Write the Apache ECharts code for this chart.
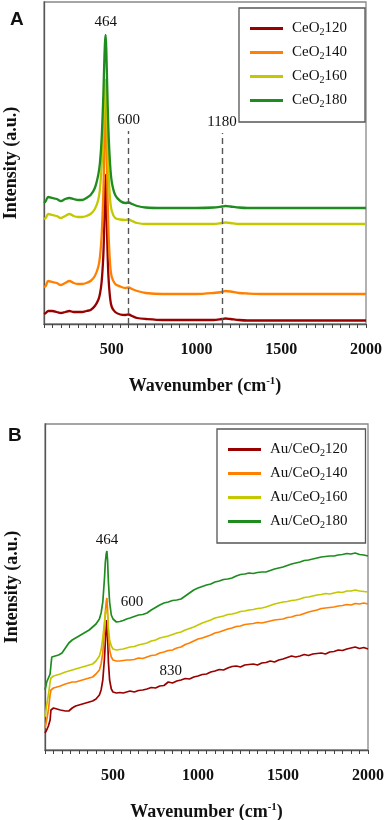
<!DOCTYPE html>
<html><head><meta charset="utf-8">
<script src="https://cdn.jsdelivr.net/npm/echarts@6/dist/echarts.min.js"></script>
<style>html,body{margin:0;padding:0;background:#fff}#c{width:387px;height:820px}</style>
</head><body><div id="c"></div>
<script>
// ---------- Panel A data ----------
const namesA = ['CeO2120', 'CeO2140', 'CeO2160', 'CeO2180'];
const xA = [100,110,125,150,175,200,225,250,275,300,325,350,375,400,420,430,440,450,455,460,464,468,473,480,490,500,520,550,580,600,620,650,700,800,900,1000,1100,1150,1170,1200,1250,1300,1400,1500,1600,1700,1800,1900,2000];
const redA = [10,11,13,13,12, 11,12,13,12,12, 12,13,14,18,24, 30,42,68,95,130, 149,125,85,48,26, 17,12,9.5,9,9.5, 8,6,5,4,4, 4,4,5,5.5,5, 4,3.5,3.5,3.5,3.5, 3.5,3.5,3.5,3.5];
const orangeA = [37,38,43,42,41, 39,41,43,41,40, 40,41,43,48,57, 67,88,130,165,205, 224,198,145,95,60, 47,40,37.5,36,36.5, 35,33,31,30,30, 30,31,32,33,32.5, 31,30.5,30,30,30, 30,30,30,30];
const yellowA = [105,106,110,109,108, 106,108,110,108,107, 107,108,110,115,124, 135,158,198,222,238, 244,230,195,155,125, 113,106,104.5,104,104.5, 103,101,100,100,100, 100,100,101,101.5,101, 100,100,100,100,100, 100,100,100,100];
const greenA = [121,123,127,126,125, 123,125,126,125,124, 124,126,129,136,149, 161,185,228,258,282, 289,272,238,195,160, 142,129,123,121,121.5, 120,118,116.5,116,116, 116,116.5,117.5,118,117.5, 116.5,116,116,116,116, 116,116,116,116];

// ---------- Panel B data ----------
const namesB = ['Au/CeO2120', 'Au/CeO2140', 'Au/CeO2160', 'Au/CeO2180'];
const xB = [100,110,120,130,135,140,150,160,170,180,190,200,220,240,260,280,300,320,340,360,380,400,420,430,440,450,455,460,464,468,473,480,490,500,520,540,560,580,
  600,625,650,675,700,725,750,775,800,825,850,875,900,925,950,975,1000,1025,1050,1075,1100,1125,1150,1175,1200,1225,1250,1275,1300,1325,1350,1375,1400,1425,1450,1475,1500,1525,1550,1575,1600,1625,1650,1675,1700,1725,1750,1775,1800,1825,1850,1875,1900,1925,1950,1975,2000];
const redB = [17,20,24,30,40, 42,42,41,41,41, 40,40,39,39,42, 44,45,46,47,48, 49,51,55,60,70, 92,108,122,130,115, 88,70,61,58,57, 57.5,57,58,
  59,58,59.5,60,61, 62.5,62,64,64.5,68, 67,69,70,71.5,71, 73,74,75.5,76,78, 79,80.5,80,82,83.5, 84,83,85,85.5,86, 85,87,87.5,89,88, 90,91,92.5,94,93, 94,95.5,94.5,96,96.5, 97,96,98,98.5,100, 99.5,101,102,103,101.5, 102.5,101];
const orangeB = [22,30,40,55,60, 62,62,63,63,64, 64,65,66,67,68, 68,69,70,71,72, 73,76,80,86,97, 122,138,148,152,140, 115,100,93,90,89, 89,89.5,90,
  90,90.5,92,91.5,93, 94.5,95,97,98,99.5, 100,102,103,105.5,107, 109,111,112,113.5,115, 117,118,119.5,121,122, 123.5,124,125.5,126,126.5, 127.5,127,128,129,130, 130.5,131,132.5,133,134.5, 135,136.5,138,139,140, 141.5,142,142.5,143,144, 144.5,145.5,145,146.5,146, 147,146];
const yellowB = [33,45,55,68,72, 73,74,74,75,75, 76,76,78,79,80, 81,82,83,84,85, 86,89,94,100,112, 128,137,140,142,136, 122,110,104,101,100, 100.5,101,102,
  103,103.5,105,106,107, 109,110,112,113,114, 115.5,117,118,120,121.5, 123,125,127,128.5,130, 132,133,134,135.5,136, 137,138.5,139,140,140.5, 141.5,142,143,144.5,146, 147,148,148.5,149.5,150, 151,152.5,153,154,155, 155.5,156.5,156,157,158, 157.5,159,159,160,159, 158.5,158];
const greenB = [60,68,72,76,85, 93,94,94,95,95, 96,97,102,107,110, 112,114,116,118,120, 123,126,131,137,148, 172,188,196,199,190, 168,148,135,131,128, 128.5,129.5,131,
  132,133.5,135,135.5,137, 140,142.5,145,147,148, 149.5,150,151,154,157, 160,162,163.5,165,166, 168,169,170.5,171,172, 174,175.5,176,177,176.5, 177.5,178,178,179.5,181, 182,183,184.5,186,187, 188,189.5,190,191,192, 193,193.5,194,194,195, 195.5,196.5,196,197,195.5, 195,194];

const colors = ['#990000', '#FF8000', '#C4C800', '#1E8C1E'];

const SERIF = '"Liberation Serif","Times New Roman",serif';
const SANS = '"Liberation Sans",Arial,sans-serif';
const zip = (xs, ys) => xs.map((x, i) => [x, ys[i]]);
const subName = n => n.replace('CeO2', 'CeO{s|2}');

function xAxisCfg(gridIndex) {
  return {
    type: 'value', gridIndex: gridIndex, min: 100, max: 2000, interval: 50,
    name: 'Wavenumber (cm{sup|-1})', nameLocation: 'middle', nameGap: 52,
    nameTextStyle: { fontFamily: SERIF, fontWeight: 'bold', fontSize: 18, color: '#111',
      rich: { sup: { fontFamily: SERIF, fontWeight: 'bold', fontSize: 11, padding: [0, 0, 9, 0] } } },
    axisLine: { show: true, onZero: false, lineStyle: { color: '#555', width: 1.3 } },
    axisTick: { show: true, length: 4, lineStyle: { color: '#444', width: 1 } },
    axisLabel: { formatter: v => (v % 500 === 0 ? String(v) : ''), fontFamily: SERIF, fontWeight: 'bold', fontSize: 16, color: '#111', margin: 18 },
    splitLine: { show: false }
  };
}
function yAxisCfg(gridIndex, max) {
  return {
    type: 'value', gridIndex: gridIndex, min: 0, max: max,
    name: 'Intensity (a.u.)', nameLocation: 'middle', nameGap: 24, nameRotate: 90,
    nameTextStyle: { fontFamily: SERIF, fontWeight: 'bold', fontSize: 18, color: '#111' },
    axisLine: { show: true, lineStyle: { color: '#555', width: 1.3 } },
    axisTick: { show: false }, axisLabel: { show: false }, splitLine: { show: false }
  };
}
function legendCfg(names, left, top) {
  return {
    data: names, orient: 'vertical', left: left, top: top, selectedMode: false,
    icon: 'rect', itemWidth: 33, itemHeight: 3, itemGap: 8,
    borderColor: '#555', borderWidth: 1.3, padding: [13, 18, 13, 11], borderRadius: 0,
    formatter: subName,
    textStyle: { fontFamily: SERIF, fontSize: 15, color: '#111', padding: [0, 0, 0, 4],
      rich: { s: { fontFamily: SERIF, fontSize: 10, padding: [7, 0, 0, 0] } } }
  };
}
const peakLabel = { fontFamily: SERIF, fontSize: 15, color: '#111' };

function lineSeries(name, xs, ys, color, idx, width, smooth) {
  return {
    type: 'line', name: name, data: zip(xs, ys), xAxisIndex: idx, yAxisIndex: idx,
    showSymbol: false, smooth: smooth, lineStyle: { color: color, width: width }, itemStyle: { color: color },
    animation: false, silent: true
  };
}

const sA = [redA, orangeA, yellowA, greenA].map((ys, i) => lineSeries(namesA[i], xA, ys, colors[i], 0, 2.3, 0.3));
const sB = [redB, orangeB, yellowB, greenB].map((ys, i) => lineSeries(namesB[i], xB, ys, colors[i], 1, 1.7, false));

sA[0].markLine = {
  symbol: ['none', 'none'], silent: true, animation: false,
  lineStyle: { type: [6, 4], color: '#555', width: 1.4 },
  label: { show: true, position: 'end', formatter: '{b}', distance: 3, ...peakLabel },
  data: [
    [{ name: '600', coord: [600, 0] }, { coord: [600, 193] }],
    [{ name: '1180', coord: [1150, 0] }, { coord: [1150, 191] }]
  ]
};
const mpBase = { symbol: 'circle', symbolSize: 1, itemStyle: { color: 'rgba(0,0,0,0)' }, animation: false, silent: true };
sA[3].markPoint = Object.assign({}, mpBase, {
  label: { show: true, position: 'top', distance: 5, formatter: '{b}', ...peakLabel },
  data: [{ name: '464', coord: [464, 289] }]
});
sB[3].markPoint = Object.assign({}, mpBase, {
  label: { show: true, position: 'top', distance: 3, formatter: '{b}', ...peakLabel },
  data: [{ name: '464', coord: [464, 199] }]
});
sB[0].markPoint = Object.assign({}, mpBase, {
  label: { show: true, position: 'inside', formatter: '{b}', ...peakLabel },
  data: [{ name: '600', coord: [612, 148] }, { name: '830', coord: [840, 79] }]
});

const chart = echarts.init(document.getElementById('c'), null, { renderer: 'canvas' });
chart.setOption({
  animation: false,
  backgroundColor: '#fff',
  title: [
    { text: 'A', left: 5, top: 5, textStyle: { fontFamily: SANS, fontWeight: 'bold', fontSize: 19, color: '#111' } },
    { text: 'B', left: 3, top: 421, textStyle: { fontFamily: SANS, fontWeight: 'bold', fontSize: 19, color: '#111' } }
  ],
  grid: [
    { left: 44, top: 2, width: 322, height: 322, outerBoundsMode: 'none', containLabel: false, show: true, borderColor: '#888', borderWidth: 1.3, backgroundColor: 'rgba(0,0,0,0)' },
    { left: 45, top: 424, width: 323, height: 326, outerBoundsMode: 'none', containLabel: false, show: true, borderColor: '#888', borderWidth: 1.3, backgroundColor: 'rgba(0,0,0,0)' }
  ],
  legend: [legendCfg(namesA, 239, 8), legendCfg(namesB, 217, 429)],
  xAxis: [xAxisCfg(0), xAxisCfg(1)],
  yAxis: [yAxisCfg(0, 322), yAxisCfg(1, 326)],
  series: sA.concat(sB)
});
</script></body></html>
